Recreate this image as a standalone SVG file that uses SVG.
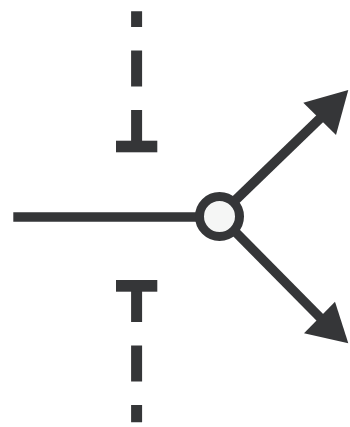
<svg xmlns="http://www.w3.org/2000/svg" width="350" height="427" viewBox="0 0 350 427">
<style>
.ln{stroke:#353638;stroke-width:9.5;fill:none}
.dash{stroke:#353638;stroke-width:11;fill:none;stroke-dasharray:36 23.5}
.bar{fill:#353638}
.head{fill:#353638}
.node{fill:#f5f6f5;stroke:#353638;stroke-width:9}
</style>
<rect width="350" height="427" fill="#ffffff"/>
<g id="connectors">
<line class="ln" x1="13.3" y1="217" x2="200" y2="217"/>
<line class="ln" x1="233" y1="202.5" x2="321" y2="117.5"/>
<polygon class="head" points="348.3,90 303.3,102.7 336,135"/>
<line class="ln" x1="233" y1="229.5" x2="321" y2="318.5"/>
<polygon class="head" points="348.3,343.3 304,333.3 335,301.7"/>
<line class="dash" x1="136.6" y1="146" x2="136.6" y2="11.3"/>
<rect class="bar" x="116" y="140.7" width="41.3" height="11.6"/>
<line class="dash" x1="136.6" y1="286" x2="136.6" y2="422.3"/>
<rect class="bar" x="116" y="280" width="41.3" height="11.7"/>
</g>
<g id="junction">
<circle class="node" cx="219.5" cy="216.5" r="20"/>
</g>
</svg>
